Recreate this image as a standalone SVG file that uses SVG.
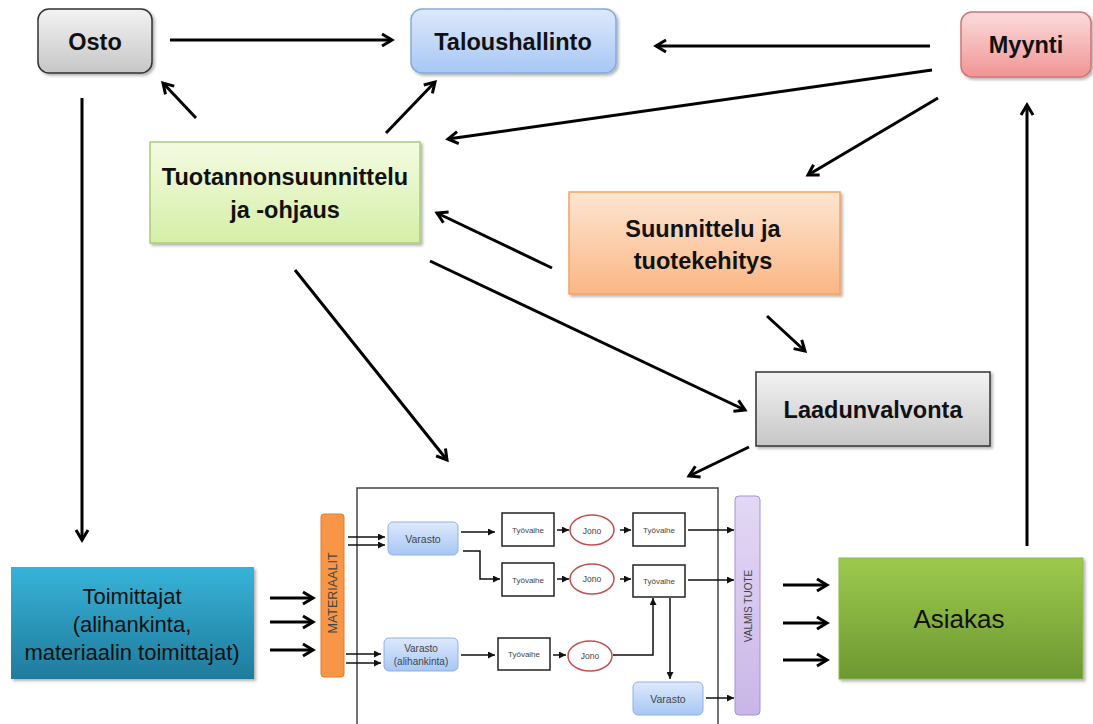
<svg xmlns="http://www.w3.org/2000/svg" width="1093" height="724" viewBox="0 0 1093 724">
  <defs>
    <linearGradient id="gGray" x1="0" y1="0" x2="0" y2="1"><stop offset="0" stop-color="#f3f3f3"/><stop offset="1" stop-color="#c6c6c6"/></linearGradient>
    <linearGradient id="gBlue" x1="0" y1="0" x2="0" y2="1"><stop offset="0" stop-color="#dde9fc"/><stop offset="1" stop-color="#a7c7f4"/></linearGradient>
    <linearGradient id="gRed" x1="0" y1="0" x2="0" y2="1"><stop offset="0" stop-color="#fcdcdc"/><stop offset="1" stop-color="#f19494"/></linearGradient>
    <linearGradient id="gLime" x1="0" y1="0" x2="0" y2="1"><stop offset="0" stop-color="#f4fbe2"/><stop offset="1" stop-color="#d5efa6"/></linearGradient>
    <linearGradient id="gOrange" x1="0" y1="0" x2="0" y2="1"><stop offset="0" stop-color="#fde5d1"/><stop offset="1" stop-color="#fbb684"/></linearGradient>
    <linearGradient id="gCyan" x1="0" y1="0" x2="0" y2="1"><stop offset="0" stop-color="#37b3d8"/><stop offset="1" stop-color="#1f7b9c"/></linearGradient>
    <linearGradient id="gGreen" x1="0" y1="0" x2="0" y2="1"><stop offset="0" stop-color="#9dca4d"/><stop offset="1" stop-color="#6c9831"/></linearGradient>
    <linearGradient id="gPurple" x1="0" y1="0" x2="0" y2="1"><stop offset="0" stop-color="#e3d8f5"/><stop offset="1" stop-color="#c9b6e7"/></linearGradient>
    <filter id="shadow" x="-10%" y="-10%" width="130%" height="130%">
      <feDropShadow dx="2" dy="2" stdDeviation="1.5" flood-color="#000" flood-opacity="0.3"/>
    </filter>
    <marker id="big" viewBox="0 0 16 16" markerUnits="userSpaceOnUse" markerWidth="16" markerHeight="16" refX="13" refY="8" orient="auto">
      <path d="M3,2 L13,8 L3,14" fill="none" stroke="#000" stroke-width="3" stroke-linejoin="miter"/>
    </marker>
    <marker id="small" viewBox="0 0 8 8" markerUnits="userSpaceOnUse" markerWidth="7" markerHeight="7" refX="8" refY="4" orient="auto">
      <path d="M0,0 L8,4 L0,8 z" fill="#111"/>
    </marker>
  </defs>
  <style>
    .lbl { font-family: "Liberation Sans", Arial, sans-serif; font-weight: bold; font-size: 23.5px; fill: #111; text-anchor: middle; dominant-baseline: central; }
    .reg { font-family: "Liberation Sans", Arial, sans-serif; fill: #111; text-anchor: middle; dominant-baseline: central; }
    .sm { font-family: "Liberation Sans", Arial, sans-serif; fill: #444; text-anchor: middle; dominant-baseline: central; }
    .main { stroke: #000; stroke-width: 3; fill: none; marker-end: url(#big); }
    .flow { stroke: #111; stroke-width: 1.5; fill: none; marker-end: url(#small); }
    .step { fill: #fff; stroke: #222; stroke-width: 1.5; }
    .queue { fill: #fff; stroke: #c0504d; stroke-width: 1.5; }
    .store { fill: url(#gBlue); stroke: #8fb1e2; stroke-width: 1; }
  </style>
  <rect width="1093" height="724" fill="#fff"/>

  <!-- departments -->
  <g id="osto">
    <rect x="38" y="9" width="114" height="64" rx="11" fill="url(#gGray)" stroke="#333" stroke-width="1.5" filter="url(#shadow)"/>
    <text class="lbl" x="95" y="42">Osto</text>
  </g>
  <g id="taloushallinto">
    <rect x="411" y="9" width="205" height="64" rx="11" fill="url(#gBlue)" stroke="#85aadb" stroke-width="1.5" filter="url(#shadow)"/>
    <text class="lbl" x="513" y="42">Taloushallinto</text>
  </g>
  <g id="myynti">
    <rect x="961" y="12" width="130" height="65" rx="11" fill="url(#gRed)" stroke="#d07474" stroke-width="1.5" filter="url(#shadow)"/>
    <text class="lbl" x="1026" y="45" font-size="24.5">Myynti</text>
  </g>
  <g id="tuotannonsuunnittelu">
    <rect x="150" y="142" width="270" height="101" fill="url(#gLime)" stroke="#a8cd78" stroke-width="1.5" filter="url(#shadow)"/>
    <text class="lbl" x="285" y="177">Tuotannonsuunnittelu</text>
    <text class="lbl" x="285" y="210">ja -ohjaus</text>
  </g>
  <g id="suunnittelu">
    <rect x="569" y="192" width="271" height="102" fill="url(#gOrange)" stroke="#f5a261" stroke-width="1.5" filter="url(#shadow)"/>
    <text class="lbl" x="703" y="229">Suunnittelu ja</text>
    <text class="lbl" x="703" y="261">tuotekehitys</text>
  </g>
  <g id="laadunvalvonta">
    <rect x="756" y="372" width="234" height="74" fill="url(#gGray)" stroke="#333" stroke-width="1.5" filter="url(#shadow)"/>
    <text class="lbl" x="873" y="410">Laadunvalvonta</text>
  </g>
  <g id="toimittajat">
    <rect x="11" y="567" width="243" height="112" fill="url(#gCyan)" filter="url(#shadow)"/>
    <text class="reg" x="132" y="596" font-size="22">Toimittajat</text>
    <text class="reg" x="132" y="624" font-size="22">(alihankinta,</text>
    <text class="reg" x="132" y="652" font-size="22">materiaalin toimittajat)</text>
  </g>
  <g id="asiakas">
    <rect x="839" y="558" width="244" height="121" fill="url(#gGreen)" stroke="#8db84a" stroke-width="1" filter="url(#shadow)"/>
    <text class="reg" x="959" y="619" font-size="26">Asiakas</text>
  </g>

  <!-- production process -->
  <g id="materiaalit">
    <rect x="321" y="514" width="23" height="163" rx="3" fill="#f79646" stroke="#e27a30" stroke-width="1"/>
    <text class="sm" x="333" y="593" font-size="12.5" fill="#3a2410" transform="rotate(-90 333 593)">MATERIAALIT</text>
  </g>
  <g id="tuotanto">
    <rect x="357" y="488" width="361" height="240" fill="#fff" stroke="#444" stroke-width="1.5"/>
    <g id="varasto1">
      <rect class="store" x="388" y="522" width="70" height="33" rx="5"/>
      <text class="sm" x="423" y="539" font-size="10.5">Varasto</text>
    </g>
    <g id="varasto2">
      <rect class="store" x="384" y="638" width="74" height="33" rx="5"/>
      <text class="sm" x="421" y="648" font-size="10">Varasto</text>
      <text class="sm" x="421" y="661" font-size="10">(alihankinta)</text>
    </g>
    <g id="varasto3">
      <rect class="store" x="633" y="682" width="70" height="33" rx="5"/>
      <text class="sm" x="668" y="699" font-size="10.5">Varasto</text>
    </g>
    <g id="tyovaihe1"><rect class="step" x="502" y="513" width="52" height="33"/><text class="sm" x="528" y="530" font-size="8">Työvaihe</text></g>
    <g id="tyovaihe2"><rect class="step" x="633" y="513" width="52" height="33"/><text class="sm" x="659" y="530" font-size="8">Työvaihe</text></g>
    <g id="tyovaihe3"><rect class="step" x="502" y="563" width="52" height="33"/><text class="sm" x="528" y="580" font-size="8">Työvaihe</text></g>
    <g id="tyovaihe4"><rect class="step" x="633" y="565" width="52" height="32"/><text class="sm" x="659" y="581" font-size="8">Työvaihe</text></g>
    <g id="tyovaihe5"><rect class="step" x="498" y="638" width="52" height="32"/><text class="sm" x="524" y="654" font-size="8">Työvaihe</text></g>
    <g id="jono1"><ellipse class="queue" cx="592" cy="530" rx="22" ry="15"/><text class="sm" x="592" y="531" font-size="8.5">Jono</text></g>
    <g id="jono2"><ellipse class="queue" cx="592" cy="579" rx="22" ry="15"/><text class="sm" x="592" y="579" font-size="8.5">Jono</text></g>
    <g id="jono3"><ellipse class="queue" cx="590" cy="656" rx="22" ry="15"/><text class="sm" x="590" y="656" font-size="8.5">Jono</text></g>
  </g>
  <g id="valmis-tuote">
    <rect x="735" y="496" width="25" height="219" rx="4" fill="url(#gPurple)" stroke="#a692cc" stroke-width="1"/>
    <text class="sm" x="748" y="606" font-size="10" fill="#555" transform="rotate(-90 748 606)">VALMIS TUOTE</text>
  </g>

  <g id="connectors">
    <!-- between departments -->
    <line class="main" x1="170" y1="40" x2="392" y2="40"/>
    <line class="main" x1="930" y1="46" x2="656" y2="46"/>
    <line class="main" x1="932" y1="70" x2="448" y2="139"/>
    <line class="main" x1="938" y1="98" x2="808" y2="175"/>
    <line class="main" x1="196" y1="118" x2="163" y2="83"/>
    <line class="main" x1="386" y1="133" x2="435" y2="82"/>
    <line class="main" x1="552" y1="268" x2="437" y2="213"/>
    <line class="main" x1="430" y1="261" x2="745" y2="410"/>
    <line class="main" x1="295" y1="270" x2="447" y2="460"/>
    <line class="main" x1="767" y1="316" x2="805" y2="351"/>
    <line class="main" x1="749" y1="447" x2="689" y2="476"/>
    <line class="main" x1="82" y1="98" x2="82" y2="540"/>
    <line class="main" x1="1027" y1="546" x2="1027" y2="105"/>
    <!-- suppliers to materials -->
    <line class="main" x1="270" y1="598" x2="313" y2="598"/>
    <line class="main" x1="270" y1="622" x2="313" y2="622"/>
    <line class="main" x1="270" y1="650" x2="313" y2="650"/>
    <!-- finished product to customer -->
    <line class="main" x1="783" y1="585" x2="827" y2="585"/>
    <line class="main" x1="783" y1="623" x2="827" y2="623"/>
    <line class="main" x1="783" y1="660" x2="827" y2="660"/>
    <!-- materials into stores -->
    <line class="flow" x1="348" y1="537" x2="385" y2="537"/>
    <line class="flow" x1="348" y1="545" x2="385" y2="545"/>
    <line class="flow" x1="346" y1="654" x2="381" y2="654"/>
    <line class="flow" x1="346" y1="663" x2="381" y2="663"/>
    <!-- process flows -->
    <line class="flow" x1="461" y1="532" x2="495" y2="532"/>
    <line class="flow" x1="557" y1="530" x2="569" y2="530"/>
    <line class="flow" x1="620" y1="530" x2="631" y2="530"/>
    <line class="flow" x1="688" y1="530" x2="734" y2="530"/>
    <polyline class="flow" points="463,551 480,551 480,579 500,579"/>
    <line class="flow" x1="557" y1="579" x2="569" y2="579"/>
    <line class="flow" x1="620" y1="579" x2="631" y2="579"/>
    <line class="flow" x1="688" y1="580" x2="734" y2="580"/>
    <line class="flow" x1="461" y1="655" x2="495" y2="655"/>
    <line class="flow" x1="553" y1="655" x2="566" y2="655"/>
    <polyline class="flow" points="613,655 653,655 653,598"/>
    <line class="flow" x1="670" y1="598" x2="670" y2="679"/>
    <line class="flow" x1="706" y1="698" x2="734" y2="698"/>
  </g>
</svg>
